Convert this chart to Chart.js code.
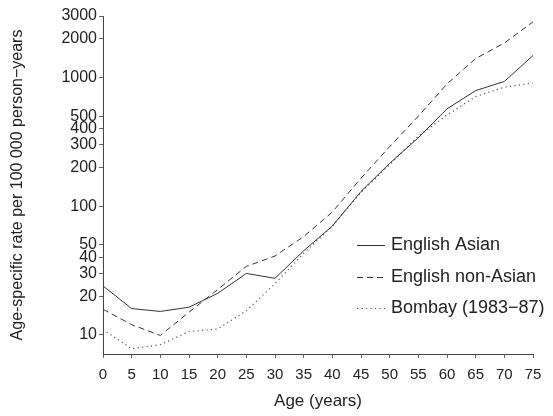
<!DOCTYPE html>
<html>
<head>
<meta charset="utf-8">
<script src="https://cdn.jsdelivr.net/npm/chart.js@4/dist/chart.umd.min.js"></script>
<style>
  html, body { margin: 0; padding: 0; background: #fff; }
  #wrap { width: 553px; height: 416px; }
</style>
</head>
<body>
<div id="wrap"><canvas id="rateChart" width="553" height="416"></canvas></div>
<script>
const ages = [0, 5, 10, 15, 20, 25, 30, 35, 40, 45, 50, 55, 60, 65, 70, 75];
const englishAsian = [24, 16, 15.2, 16.4, 21, 30, 27.5, 45, 70, 130, 215, 340, 570, 790, 930, 1480];
const englishNonAsian = [15.8, 12, 9.9, 15, 22.5, 34, 41, 58, 90, 165, 290, 500, 890, 1400, 1850, 2700];
const bombay = [11, 7.8, 8.4, 10.6, 11.1, 15.4, 25, 43, 70, 128, 210, 350, 510, 710, 840, 905];
const yTickValues = [10, 20, 30, 40, 50, 100, 200, 300, 400, 500, 1000, 2000, 3000];

const fontFamily = '"Liberation Sans", Arial, Helvetica, sans-serif';
const ink = '#222';

function toPoints(values) {
    return values.map((v, i) => ({ x: ages[i], y: v }));
}

// legend drawn inside the plot, like the original figure
const insideLegend = {
    id: 'insideLegend',
    afterDraw(chart) {
        const ctx = chart.ctx;
        const x0 = 357, x1 = 385, tx = 391;
        const rows = [245, 277, 308];
        ctx.save();
        ctx.font = '18px ' + fontFamily;
        ctx.textBaseline = 'middle';
        ctx.fillStyle = ink;
        chart.data.datasets.forEach((ds, i) => {
            const y = rows[i];
            ctx.strokeStyle = ds.borderColor;
            ctx.lineWidth = ds.borderWidth;
            ctx.setLineDash(ds.borderDash || []);
            ctx.beginPath();
            ctx.moveTo(x0, y + 0.5);
            ctx.lineTo(x1, y + 0.5);
            ctx.stroke();
            ctx.setLineDash([]);
            ctx.fillText(ds.label, tx, y);
        });
        ctx.restore();
    }
};

const chart = new Chart(document.getElementById('rateChart').getContext('2d'), {
    type: 'line',
    data: {
        datasets: [
            { label: 'English Asian', data: toPoints(englishAsian), borderColor: '#333', borderWidth: 1, borderDash: [] },
            { label: 'English non-Asian', data: toPoints(englishNonAsian), borderColor: '#333', borderWidth: 1, borderDash: [6, 4] },
            { label: 'Bombay (1983\u221287)', data: toPoints(bombay), borderColor: '#555', borderWidth: 1.2, borderDash: [1.2, 3.3] }
        ]
    },
    options: {
        responsive: false,
        animation: false,
        layout: { padding: { top: 16, right: 20, bottom: 0, left: 0 } },
        elements: { point: { radius: 0 }, line: { tension: 0 } },
        plugins: { legend: { display: false }, tooltip: { enabled: false } },
        scales: {
            x: {
                type: 'linear',
                min: 0,
                max: 75,
                ticks: { stepSize: 5, color: ink, font: { family: fontFamily, size: 15 }, padding: 8, maxRotation: 0 },
                grid: { drawOnChartArea: false, tickLength: 4, color: '#666' },
                border: { color: '#444' },
                title: { display: true, text: 'Age (years)', color: ink, font: { family: fontFamily, size: 17 }, padding: { top: 0, bottom: 4 } },
                afterFit(scale) { scale.height = 62; }
            },
            y: {
                type: 'logarithmic',
                min: 7.1,
                max: 3000,
                afterBuildTicks(scale) { scale.ticks = yTickValues.map(v => ({ value: v })); },
                ticks: { color: ink, font: { family: fontFamily, size: 16 }, padding: 2, callback: v => String(v) },
                grid: { drawOnChartArea: false, tickLength: 4, color: '#666' },
                border: { color: '#444' },
                title: { display: true, text: 'Age-specific rate per 100 000 person\u2212years', color: ink, font: { family: fontFamily, size: 16 }, padding: { top: 8, bottom: 0 } },
                afterFit(scale) { scale.width = 103; }
            }
        }
    },
    plugins: [insideLegend]
});
</script>
</body>
</html>
